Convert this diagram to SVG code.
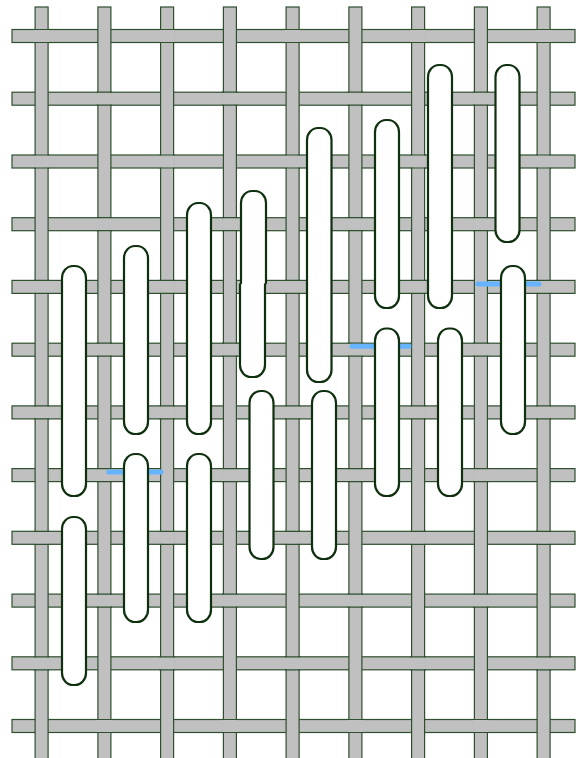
<svg xmlns="http://www.w3.org/2000/svg" xmlns:xlink="http://www.w3.org/1999/xlink" width="579" height="758" viewBox="0 0 579 758">
<style>
.bar{fill:#c0c0c0;stroke:#2f4f2f;stroke-width:1.2}
.pf{fill:#c0c0c0;stroke:none}
.pl{fill:none;stroke:#2f4f2f;stroke-width:1.2}
.st{fill:#ffffff;stroke:#0f300f;stroke-width:2.2}
.bl{stroke:#66b3ff;stroke-width:5;stroke-linecap:round;fill:none}
</style>
<defs>
<g id="hp"><rect class="pf" x="-7.7" y="-6" width="15.4" height="12"/><path class="pl" d="M-7.7,-6.5H7.7M-7.7,6.5H7.7"/></g>
</defs>
<rect width="579" height="758" fill="#ffffff"/>
<g id="weft">
<rect class="bar" x="12" y="29.5" width="563" height="13"/>
<rect class="bar" x="12" y="92.2" width="563" height="13"/>
<rect class="bar" x="12" y="155" width="563" height="13"/>
<rect class="bar" x="12" y="217.7" width="563" height="13"/>
<rect class="bar" x="12" y="280.4" width="563" height="13"/>
<rect class="bar" x="12" y="343.2" width="563" height="13"/>
<rect class="bar" x="12" y="405.9" width="563" height="13"/>
<rect class="bar" x="12" y="468.6" width="563" height="13"/>
<rect class="bar" x="12" y="531.3" width="563" height="13"/>
<rect class="bar" x="12" y="594.1" width="563" height="13"/>
<rect class="bar" x="12" y="656.8" width="563" height="13"/>
<rect class="bar" x="12" y="719.5" width="563" height="13"/>
</g>
<g id="warp">
<rect class="bar" x="35.1" y="7" width="13" height="752"/>
<rect class="bar" x="97.9" y="7" width="13" height="752"/>
<rect class="bar" x="160.6" y="7" width="13" height="752"/>
<rect class="bar" x="223.4" y="7" width="13" height="752"/>
<rect class="bar" x="286.1" y="7" width="13" height="752"/>
<rect class="bar" x="348.9" y="7" width="13" height="752"/>
<rect class="bar" x="411.6" y="7" width="13" height="752"/>
<rect class="bar" x="474.4" y="7" width="13" height="752"/>
<rect class="bar" x="537.1" y="7" width="13" height="752"/>
</g>
<g id="weave-over">
<use xlink:href="#hp" x="41.6" y="36"/><use xlink:href="#hp" x="167.1" y="36"/><use xlink:href="#hp" x="292.6" y="36"/><use xlink:href="#hp" x="418.1" y="36"/><use xlink:href="#hp" x="543.6" y="36"/>
<use xlink:href="#hp" x="104.35" y="98.7"/><use xlink:href="#hp" x="229.85" y="98.7"/><use xlink:href="#hp" x="355.35" y="98.7"/><use xlink:href="#hp" x="480.85" y="98.7"/>
<use xlink:href="#hp" x="41.6" y="161.5"/><use xlink:href="#hp" x="167.1" y="161.5"/><use xlink:href="#hp" x="292.6" y="161.5"/><use xlink:href="#hp" x="418.1" y="161.5"/><use xlink:href="#hp" x="543.6" y="161.5"/>
<use xlink:href="#hp" x="104.35" y="224.2"/><use xlink:href="#hp" x="229.85" y="224.2"/><use xlink:href="#hp" x="355.35" y="224.2"/><use xlink:href="#hp" x="480.85" y="224.2"/>
<use xlink:href="#hp" x="41.6" y="286.9"/><use xlink:href="#hp" x="167.1" y="286.9"/><use xlink:href="#hp" x="292.6" y="286.9"/><use xlink:href="#hp" x="418.1" y="286.9"/><use xlink:href="#hp" x="543.6" y="286.9"/>
<use xlink:href="#hp" x="104.35" y="349.7"/><use xlink:href="#hp" x="229.85" y="349.7"/><use xlink:href="#hp" x="355.35" y="349.7"/><use xlink:href="#hp" x="480.85" y="349.7"/>
<use xlink:href="#hp" x="41.6" y="412.4"/><use xlink:href="#hp" x="167.1" y="412.4"/><use xlink:href="#hp" x="292.6" y="412.4"/><use xlink:href="#hp" x="418.1" y="412.4"/><use xlink:href="#hp" x="543.6" y="412.4"/>
<use xlink:href="#hp" x="104.35" y="475.1"/><use xlink:href="#hp" x="229.85" y="475.1"/><use xlink:href="#hp" x="355.35" y="475.1"/><use xlink:href="#hp" x="480.85" y="475.1"/>
<use xlink:href="#hp" x="41.6" y="537.8"/><use xlink:href="#hp" x="167.1" y="537.8"/><use xlink:href="#hp" x="292.6" y="537.8"/><use xlink:href="#hp" x="418.1" y="537.8"/><use xlink:href="#hp" x="543.6" y="537.8"/>
<use xlink:href="#hp" x="104.35" y="600.6"/><use xlink:href="#hp" x="229.85" y="600.6"/><use xlink:href="#hp" x="355.35" y="600.6"/><use xlink:href="#hp" x="480.85" y="600.6"/>
<use xlink:href="#hp" x="41.6" y="663.3"/><use xlink:href="#hp" x="167.1" y="663.3"/><use xlink:href="#hp" x="292.6" y="663.3"/><use xlink:href="#hp" x="418.1" y="663.3"/><use xlink:href="#hp" x="543.6" y="663.3"/>
<use xlink:href="#hp" x="104.35" y="726"/><use xlink:href="#hp" x="229.85" y="726"/><use xlink:href="#hp" x="355.35" y="726"/><use xlink:href="#hp" x="480.85" y="726"/>
</g>
<g id="couching">
<path class="bl" d="M108.8,472H161.2"/>
<path class="bl" d="M352,346.3H409"/>
<path class="bl" d="M477.8,284H539"/>
</g>
<g id="stitches">
<rect id="s1" class="st" x="62" y="266" width="24" height="230" rx="11" ry="12"/>
<rect id="s2" class="st" x="62" y="517" width="24" height="168" rx="11" ry="12"/>
<rect id="s3" class="st" x="124" y="246" width="24" height="188" rx="11" ry="12"/>
<rect id="s4" class="st" x="124" y="454" width="24" height="168" rx="11" ry="12"/>
<rect id="s5" class="st" x="187" y="203" width="24" height="231" rx="11" ry="12"/>
<rect id="s6" class="st" x="187" y="454" width="24" height="168" rx="11" ry="12"/>
<path id="s7" class="st" d="M252,191H255A11,12 0 0 1 266,203V283L265,284.5V365A11,12 0 0 1 254,377H251A11,12 0 0 1 240,365V284.5L241,283V203A11,12 0 0 1 252,191Z"/>
<rect id="s8" class="st" x="249.5" y="391" width="24" height="168" rx="11" ry="12"/>
<rect id="s9" class="st" x="307" y="128" width="24.5" height="254" rx="11" ry="12"/>
<rect id="s10" class="st" x="312" y="391" width="24" height="168" rx="11" ry="12"/>
<rect id="s11" class="st" x="375" y="120" width="24" height="188" rx="11" ry="12"/>
<rect id="s12" class="st" x="375" y="328.5" width="24" height="167.5" rx="11" ry="12"/>
<rect id="s13" class="st" x="428" y="65" width="24" height="243" rx="11" ry="12"/>
<rect id="s14" class="st" x="438" y="328.5" width="24" height="167.5" rx="11" ry="12"/>
<rect id="s15" class="st" x="495.5" y="65" width="24" height="177" rx="11" ry="12"/>
<rect id="s16" class="st" x="501" y="266" width="24" height="168" rx="11" ry="12"/>
</g>
</svg>
